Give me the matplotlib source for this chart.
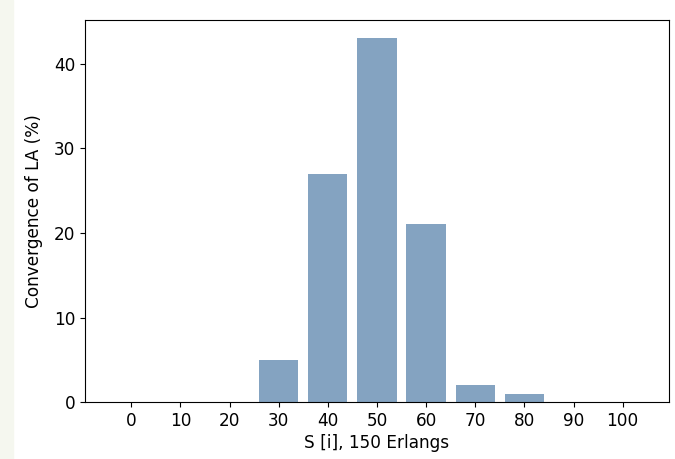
import numpy as np
import matplotlib
matplotlib.use("Agg")
import matplotlib.pyplot as plt

# convergence of LA per S[i] value
s_values = [0, 10, 20, 30, 40, 50, 60, 70, 80, 90, 100]
convergence = [0, 0, 0, 5, 27, 43, 21, 2, 1, 0, 0]

plt.rcParams["font.size"] = 12.2

fig = plt.figure(figsize=(6.75, 4.59), dpi=100)
# pale strip on the left edge of the screenshot
fig.patches.append(plt.Rectangle((0, 0), 13 / 675, 1, transform=fig.transFigure,
                                 color="#f5f7ef", zorder=-1))
ax = fig.add_axes([0.126, 0.124, 0.865, 0.832])
ax.bar(s_values, convergence, width=8, align="center", color=(0.2, 0.4, 0.6, 0.6))
ax.set_xticks(s_values)
ax.set_xlabel("S [i], 150 Erlangs", labelpad=3)
ax.set_ylabel("Convergence of LA (%)", labelpad=8)

fig.savefig("out.png", dpi=100)
